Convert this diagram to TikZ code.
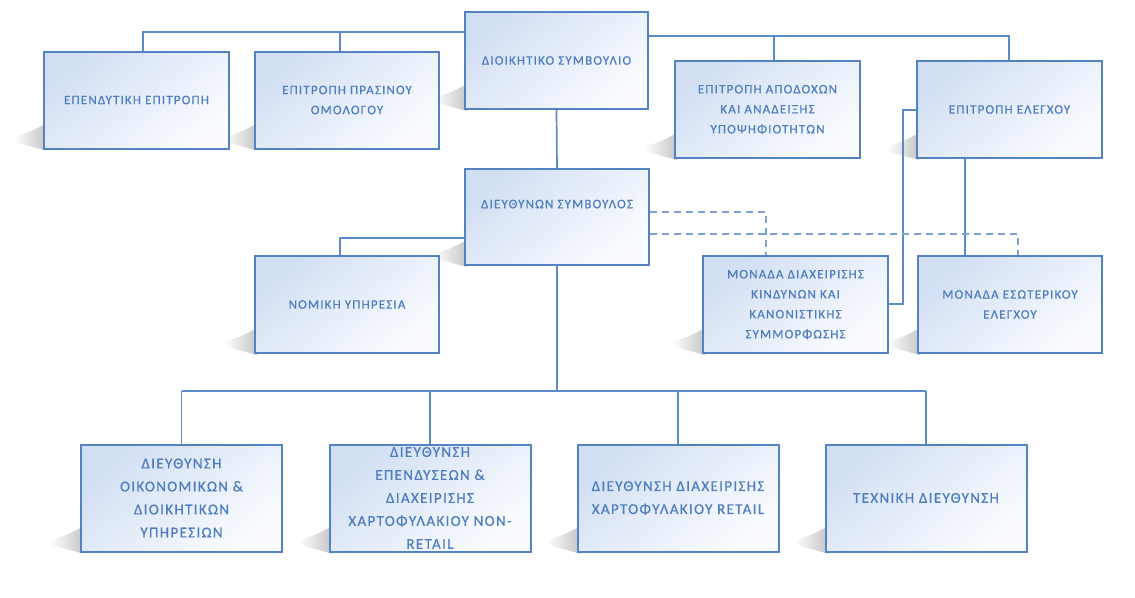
\documentclass[tikz,border=0pt]{standalone}
\usepackage{fontspec}
\usetikzlibrary{calc,backgrounds}
\newfontfamily\boxfont{Carlito}[LetterSpace=9, FakeBold=0.6]
\definecolor{bordblue}{HTML}{5383C3}
\definecolor{lineblue}{HTML}{5B8BC9}
\definecolor{dashblue}{HTML}{7DA2D6}
\definecolor{txtblue}{HTML}{4F7DC2}
\definecolor{fillblue}{HTML}{D2DFF3}
\definecolor{fillwhite}{HTML}{FAFCFF}
\tikzset{
  orgbox/.style={rectangle, draw=bordblue, line width=2pt, top color=fillblue, bottom color=fillwhite, shading angle=40,
    text=txtblue, align=center, inner sep=2pt, font=\boxfont\fontsize{13}{20}\selectfont},
  topbox/.style={orgbox, minimum width=184, minimum height=97},
  botbox/.style={orgbox, minimum width=201, minimum height=107, font=\boxfont\fontsize{15}{23}\selectfont},
  conn/.style={draw=lineblue, line width=1.7pt},
  dconn/.style={draw=dashblue, line width=1.4pt, dash pattern=on 7pt off 5pt},
  shadowwedge/.style={left color=white, right color=black!28, draw=none, opacity=0.8}
}
\begin{document}
\begin{tikzpicture}[x=1pt,y=-1pt]
\useasboundingbox (0,0) rectangle (1135,597);
% boxes
\node[topbox, minimum width=185] (inv) at (136.5,100) {ΕΠΕΝΔΥΤΙΚΗ ΕΠΙΤΡΟΠΗ};
\node[topbox] (green) at (347,100) {ΕΠΙΤΡΟΠΗ ΠΡΑΣΙΝΟΥ\\ΟΜΟΛΟΓΟΥ};
\node[topbox, minimum width=183] (board) at (556.5,60.5) {ΔΙΟΙΚΗΤΙΚΟ ΣΥΜΒΟΥΛΙΟ};
\node[topbox, minimum width=185] (rem) at (767.5,109.5) {ΕΠΙΤΡΟΠΗ ΑΠΟΔΟΧΩΝ\\ΚΑΙ ΑΝΑΔΕΙΞΗΣ\\ΥΠΟΨΗΦΙΟΤΗΤΩΝ};
\node[topbox, minimum width=185] (audit) at (1009.5,109.5) {ΕΠΙΤΡΟΠΗ ΕΛΕΓΧΟΥ};
\node[topbox, minimum height=96] (ceo) at (557,217) {ΔΙΕΥΘΥΝΩΝ ΣΥΜΒΟΥΛΟΣ\\[6pt]};
\node[topbox] (legal) at (347,304.5) {ΝΟΜΙΚΗ ΥΠΗΡΕΣΙΑ};
\node[topbox, minimum width=185] (risk) at (795.5,304.5) {ΜΟΝΑΔΑ ΔΙΑΧΕΙΡΙΣΗΣ\\ΚΙΝΔΥΝΩΝ ΚΑΙ\\ΚΑΝΟΝΙΣΤΙΚΗΣ\\ΣΥΜΜΟΡΦΩΣΗΣ};
\node[topbox] (ia) at (1010,304.5) {ΜΟΝΑΔΑ ΕΣΩΤΕΡΙΚΟΥ\\ΕΛΕΓΧΟΥ};
\node[botbox] (b1) at (181.5,498) {ΔΙΕΥΘΥΝΣΗ\\ΟΙΚΟΝΟΜΙΚΩΝ \&\\ΔΙΟΙΚΗΤΙΚΩΝ\\ΥΠΗΡΕΣΙΩΝ};
\node[botbox] (b2) at (430,498) {ΔΙΕΥΘΥΝΣΗ\\ΕΠΕΝΔΥΣΕΩΝ \&\\ΔΙΑΧΕΙΡΙΣΗΣ\\ΧΑΡΤΟΦΥΛΑΚΙΟΥ NON-\\RETAIL};
\node[botbox] (b3) at (678,498) {ΔΙΕΥΘΥΝΣΗ ΔΙΑΧΕΙΡΙΣΗΣ\\ΧΑΡΤΟΦΥΛΑΚΙΟΥ RETAIL};
\node[botbox] (b4) at (926,498) {ΤΕΧΝΙΚΗ ΔΙΕΥΘΥΝΣΗ};
% shadows
\begin{scope}[on background layer]
\foreach \n in {inv,green,board,rem,audit,ceo,legal,risk,ia,b1,b2,b3,b4}{
  \shade[shadowwedge] ($(\n.south west)+(-30,-12)$) .. controls ($(\n.south west)+(-12,-18)$) .. ($(\n.south west)+(3,-26)$) -- ($(\n.south west)+(3,1)$) .. controls ($(\n.south west)+(-12,-3)$) .. ($(\n.south west)+(-30,-8)$) -- cycle;
}
\end{scope}
% connectors
\draw[conn] (board.west |- 0,32) -- (143,32) -- (143,0 |- inv.north);
\draw[conn] (340,32) -- (340,0 |- green.north);
\draw[conn] (board.east |- 0,36) -- (1009,36) -- (1009,0 |- audit.north);
\draw[conn] (774,36) -- (774,0 |- rem.north);
\draw[conn] (board.south) -- (ceo.north);
\draw[conn] (ceo.west |- 0,238) -- (340,238) -- (340,0 |- legal.north);
\draw[conn] (ceo.south) -- (557,391);
\draw[conn] (b1.north |- 0,391) -- (b4.north |- 0,391);
\draw[conn] (b1.north |- 0,391) -- (b1.north);
\draw[conn] (b2.north |- 0,391) -- (b2.north);
\draw[conn] (b3.north |- 0,391) -- (b3.north);
\draw[conn] (b4.north |- 0,391) -- (b4.north);
\draw[conn] (965,0 |- audit.south) -- (965,0 |- ia.north);
\draw[conn] (audit.west |- 0,110) -- (903,110) -- (903,304) -- (risk.east |- 0,304);
\draw[dconn] (ceo.east |- 0,212) -- (766,212) -- (766,0 |- risk.north);
\draw[dconn] (ceo.east |- 0,234) -- (1018,234) -- (1018,0 |- ia.north);
\end{tikzpicture}
\end{document}
